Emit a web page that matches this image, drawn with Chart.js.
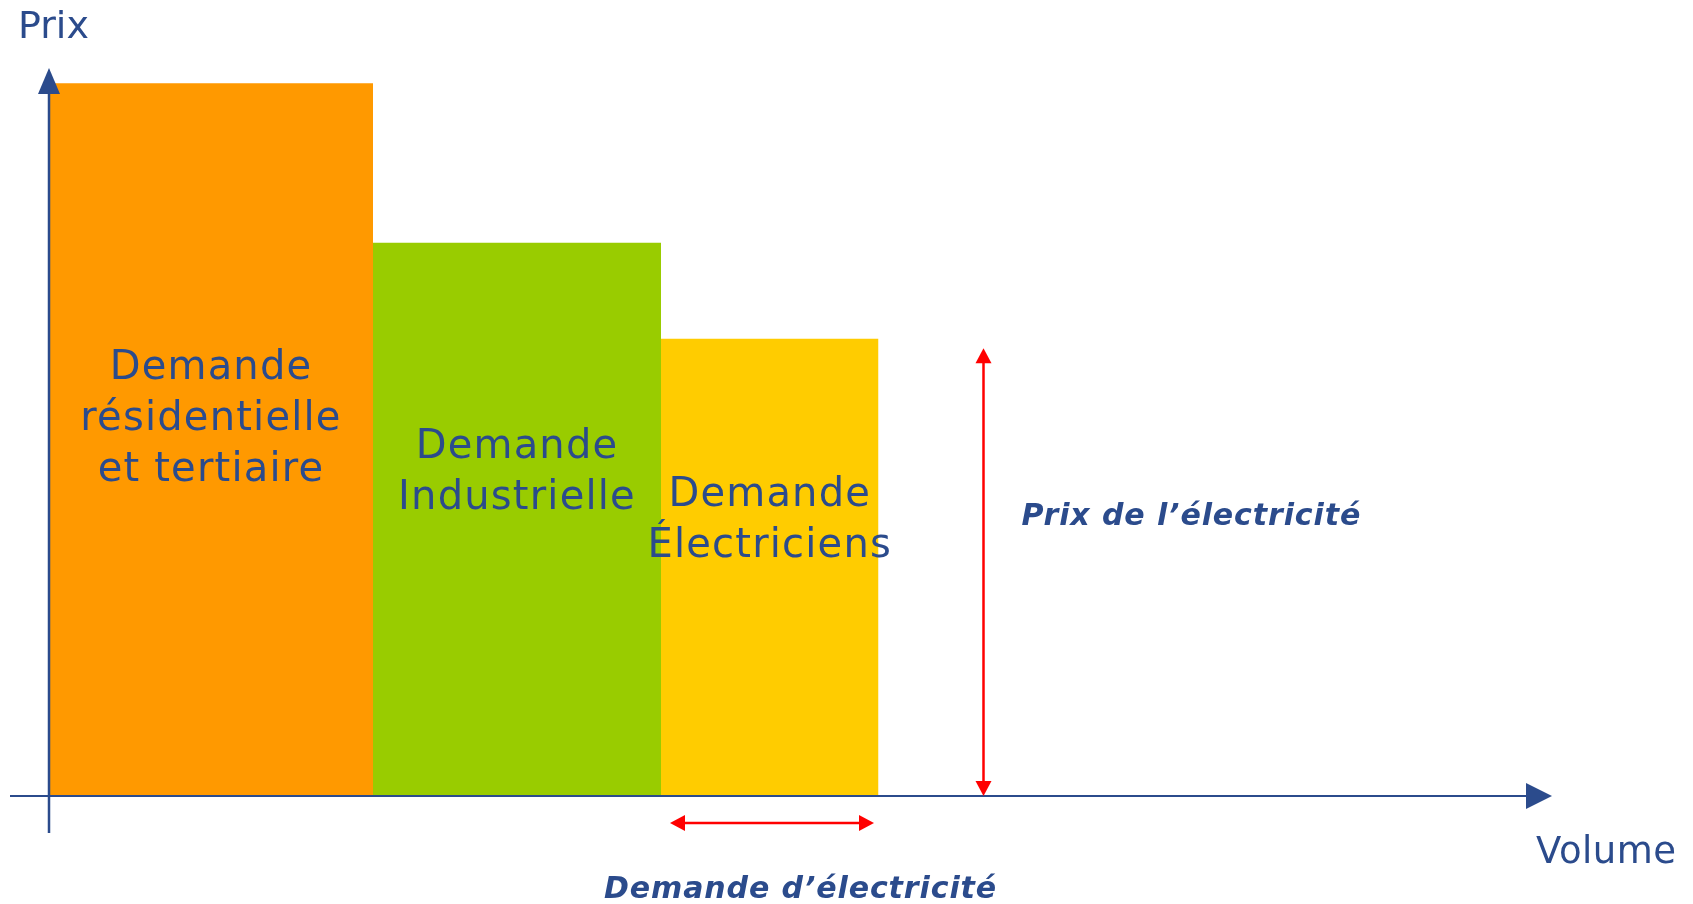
<!DOCTYPE html>
<html>
<head>
<meta charset="utf-8">
<script src="https://cdn.jsdelivr.net/npm/chart.js@4"></script>
<style>
    body { margin: 0; background: #ffffff; }
    canvas { display: block; }
</style>
</head>
<body>
<canvas id="demandChart" width="1693" height="904"></canvas>
<script>
// Demand segments (volume bounds are cumulative, price on a 0-100 scale)
const segmentLabels = [
    ['Demande', 'résidentielle', 'et tertiaire'],
    ['Demande', 'Industrielle'],
    ['Demande', 'Électriciens']
];
const volumeBounds = [0, 21.6, 40.8, 55.3];
const priceLevels = [97.9, 76.0, 62.8];

// Annotation arrows
const priceArrow = [62.3, 61.5];          // volume, top price
const demandArrow = [41.4, 55.0, -3.7];   // from volume, to volume, price

const axisTitles = ['Prix', 'Volume'];
const arrowTitles = ['Prix de l’électricité', 'Demande d’électricité'];

const segmentColors = ['#ff9900', '#99cc00', '#ffcc00'];
const blue = '#2b4b8c';
const red = '#ff0000';

function arrowHead(ctx, tipX, tipY, dirX, dirY, len, half) {
    // dir is a unit vector pointing toward the tip
    const bx = tipX - dirX * len, by = tipY - dirY * len;
    ctx.beginPath();
    ctx.moveTo(tipX, tipY);
    ctx.lineTo(bx - dirY * half, by + dirX * half);
    ctx.lineTo(bx + dirY * half, by - dirX * half);
    ctx.closePath();
    ctx.fill();
}

const overlayPlugin = {
    id: 'overlay',
    afterDraw(chart) {
        const ctx = chart.ctx;
        const x = chart.scales.x;
        const y = chart.scales.y;
        const area = chart.chartArea;
        const x0 = x.getPixelForValue(0);
        const y0 = y.getPixelForValue(0);

        ctx.save();

        // Segment labels
        ctx.fillStyle = blue;
        ctx.font = '40px "DejaVu Sans"';
        ctx.letterSpacing = '1.2px';
        ctx.textAlign = 'center';
        ctx.textBaseline = 'alphabetic';
        segmentLabels.forEach((lines, i) => {
            const cx = x.getPixelForValue((volumeBounds[i] + volumeBounds[i + 1]) / 2);
            const midY = (y.getPixelForValue(priceLevels[i]) + y0) / 2;
            lines.forEach((line, j) => {
                ctx.fillText(line, cx, midY - 61 + j * 51);
            });
        });
        ctx.letterSpacing = '0px';

        // Axes
        ctx.strokeStyle = blue;
        ctx.fillStyle = blue;
        ctx.lineWidth = 2.5;
        ctx.beginPath();
        ctx.moveTo(x0, y0 + 37);
        ctx.lineTo(x0, area.top + 24);
        ctx.stroke();
        arrowHead(ctx, x0, area.top, 0, -1, 26, 11);

        ctx.lineWidth = 2;
        ctx.beginPath();
        ctx.moveTo(x0 - 39, y0);
        ctx.lineTo(area.right - 24, y0);
        ctx.stroke();
        arrowHead(ctx, area.right, y0, 1, 0, 26, 13);

        ctx.textAlign = 'left';
        ctx.font = '38px "DejaVu Sans"';
        ctx.fillText(axisTitles[0], x0 - 31, area.top - 30);
        ctx.font = '37px "DejaVu Sans"';
        ctx.letterSpacing = '0.5px';
        ctx.fillText(axisTitles[1], area.right - 16, y0 + 67);

        // Price arrow
        ctx.strokeStyle = red;
        ctx.fillStyle = red;
        ctx.lineWidth = 2.5;
        const px = x.getPixelForValue(priceArrow[0]);
        const pTop = y.getPixelForValue(priceArrow[1]);
        ctx.beginPath();
        ctx.moveTo(px, pTop + 10);
        ctx.lineTo(px, y0 - 10);
        ctx.stroke();
        arrowHead(ctx, px, pTop, 0, -1, 15, 8);
        arrowHead(ctx, px, y0, 0, 1, 15, 8);

        // Demand arrow
        const dx1 = x.getPixelForValue(demandArrow[0]);
        const dx2 = x.getPixelForValue(demandArrow[1]);
        const dy = y.getPixelForValue(demandArrow[2]);
        ctx.beginPath();
        ctx.moveTo(dx1 + 10, dy);
        ctx.lineTo(dx2 - 10, dy);
        ctx.stroke();
        arrowHead(ctx, dx1, dy, -1, 0, 15, 8);
        arrowHead(ctx, dx2, dy, 1, 0, 15, 8);

        // Arrow titles
        ctx.fillStyle = blue;
        ctx.font = 'italic bold 30px "DejaVu Sans"';
        ctx.letterSpacing = '0.9px';
        ctx.fillText(arrowTitles[0], px + 38, (pTop + y0) / 2 - 47);
        ctx.fillText(arrowTitles[1], dx1 - 66, dy + 75);

        ctx.restore();
    }
};

const datasets = priceLevels.map((price, i) => ({
    data: [
        { x: volumeBounds[i], y: price },
        { x: volumeBounds[i + 1], y: price }
    ],
    fill: 'origin',
    backgroundColor: segmentColors[i],
    borderColor: 'transparent',
    borderWidth: 0,
    pointRadius: 0,
    tension: 0
}));

new Chart(document.getElementById('demandChart').getContext('2d'), {
    type: 'line',
    data: { datasets: datasets },
    options: {
        responsive: false,
        animation: false,
        events: [],
        layout: {
            padding: { left: 49, right: 141, top: 68, bottom: 108 }
        },
        scales: {
            x: { type: 'linear', min: 0, max: 100.2, display: false },
            y: { min: 0, max: 100, display: false }
        },
        plugins: {
            legend: { display: false },
            tooltip: { enabled: false }
        }
    },
    plugins: [overlayPlugin]
});
</script>
</body>
</html>
